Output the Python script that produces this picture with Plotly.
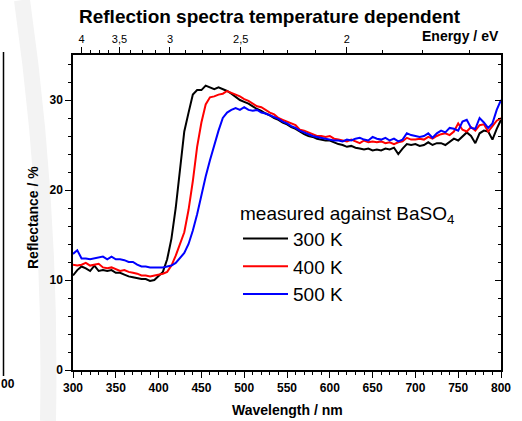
import plotly.graph_objects as go

# ---------------- data ----------------
wavelength_nm = [300, 305, 310, 315, 320, 325, 330, 335, 340, 345,
                 350, 355, 360, 365, 370, 375, 380, 385, 390, 395,
                 400, 405, 410, 415, 420, 425, 430, 435, 440, 445,
                 450, 455, 460, 465, 470, 475, 480, 485, 490, 495,
                 500, 505, 510, 515, 520, 525, 530, 535, 540, 545,
                 550, 555, 560, 565, 570, 575, 580, 585, 590, 595,
                 600, 605, 610, 615, 620, 625, 630, 635, 640, 645,
                 650, 655, 660, 665, 670, 675, 680, 685, 690, 695,
                 700, 705, 710, 715, 720, 725, 730, 735, 740, 745,
                 750, 755, 760, 765, 770, 775, 780, 785, 790, 795, 800]

reflect_300K = [10.5, 11.1, 11.5, 11.3, 11.0, 11.6, 11.0, 11.1, 11.0, 11.1,
                10.8, 10.8, 10.6, 10.4, 10.3, 10.2, 10.1, 10.1, 9.9, 10.0,
                10.4, 10.9, 12.3, 14.6, 18.0, 22.5, 26.5, 28.6, 30.6, 31.1,
                31.1, 31.6, 31.4, 31.2, 31.4, 31.2, 31.0, 30.7, 30.3, 30.0,
                29.8, 29.6, 29.3, 29.0, 28.8, 28.5, 28.3, 28.0, 27.8, 27.5,
                27.3, 27.0, 26.8, 26.5, 26.2, 26.0, 25.9, 25.7, 25.6, 25.5,
                25.5, 25.3, 25.1, 25.0, 24.8, 24.9, 24.7, 24.6, 24.5, 24.6,
                24.4, 24.5, 24.4, 24.6, 24.5, 24.7, 24.0, 24.6, 25.1, 25.0,
                25.1, 24.9, 25.0, 25.3, 25.0, 25.2, 25.2, 25.0, 25.4, 25.7,
                25.5, 25.9, 26.4, 26.0, 25.2, 26.3, 26.6, 26.5, 25.6, 26.8, 27.8]

reflect_400K = [11.7, 11.6, 11.7, 11.9, 11.6, 11.7, 11.8, 11.4, 11.3, 11.4,
                11.2, 11.0, 11.1, 10.9, 10.8, 10.7, 10.5, 10.5, 10.4, 10.5,
                10.6, 10.7, 10.9, 11.6, 12.7, 14.0, 15.3, 17.8, 21.0, 24.8,
                27.5, 29.5, 30.3, 30.4, 30.6, 30.7, 31.0, 30.8, 30.6, 30.4,
                30.1, 29.9, 29.6, 29.3, 29.2, 28.9, 28.6, 28.4, 28.0, 27.8,
                27.6, 27.4, 27.2, 26.7, 26.6, 26.4, 26.2, 26.0, 26.0, 25.9,
                26.0, 25.7, 25.6, 25.5, 25.4, 25.6, 25.4, 25.2, 25.5, 25.3,
                25.4, 25.3, 25.4, 25.2, 25.3, 25.1, 25.3, 25.4, 25.8, 25.6,
                25.6, 25.7, 25.6, 25.9, 25.7, 26.0, 26.2, 26.3, 26.1, 26.5,
                27.4, 26.7, 26.5, 27.0, 26.6, 27.2, 27.3, 26.5, 27.1, 27.7, 28.0]

reflect_500K = [12.9, 13.3, 12.4, 12.4, 12.3, 12.4, 12.5, 12.6, 12.3, 12.6,
                12.3, 12.3, 12.2, 12.0, 12.0, 11.7, 11.5, 11.5, 11.4, 11.4,
                11.4, 11.4, 11.5, 11.6, 11.9, 12.4, 13.0, 14.0, 15.5, 17.3,
                19.6, 21.5, 23.3, 25.0, 26.6, 28.0, 28.6, 28.9, 29.1, 28.9,
                29.2, 28.9, 28.8, 28.9, 28.6, 28.5, 28.3, 28.1, 27.9, 27.6,
                27.4, 27.1, 26.9, 26.6, 26.4, 26.2, 26.0, 25.9, 25.8, 25.7,
                25.6, 25.5, 25.5, 25.4, 25.6, 25.5, 25.7, 25.8, 25.6, 25.5,
                25.9, 25.7, 25.6, 25.8, 25.5, 25.7, 25.4, 25.6, 26.3, 26.1,
                26.0, 25.9, 26.0, 26.3, 25.8, 26.3, 26.6, 26.4, 26.9, 26.8,
                26.6, 27.6, 27.8, 26.9, 26.8, 28.0, 27.5, 26.9, 27.4, 28.9, 30.0]

series_names = ["300 K", "400 K", "500 K"]
series_colors = ["#000000", "#ff0000", "#0000ff"]

energy_major = [4, 3.5, 3, 2.5, 2]
energy_labels = ["4", "3,5", "3", "2,5", "2"]
energy_minor = [3.875, 3.75, 3.625, 3.375, 3.25, 3.125, 2.875, 2.75, 2.625,
                2.375, 2.25, 2.125, 1.875, 1.75, 1.625]
HC = 1239.84  # eV*nm

# ---------------- layout geometry ----------------
FIG_W, FIG_H = 522, 421
ML, MR, MT, MB = 73, 21, 55, 51
PW, PH = FIG_W - ML - MR, FIG_H - MT - MB


def px2x(px):
    return (px - ML) / PW


def py2y(py):
    return (FIG_H - MB - py) / PH


FONT = "Liberation Sans, Arial, sans-serif"

fig = go.Figure()
for name, col, vals in zip(series_names, series_colors,
                           [reflect_300K, reflect_400K, reflect_500K]):
    fig.add_trace(go.Scatter(x=wavelength_nm, y=vals, mode="lines", name=name,
                             line=dict(color=col, width=2)))

# invisible trace to activate the secondary (top / right) axes
fig.add_trace(go.Scatter(x=wavelength_nm, y=reflect_300K, xaxis="x2", yaxis="y2",
                         mode="lines", line=dict(width=0, color="rgba(0,0,0,0)"),
                         showlegend=False, hoverinfo="skip"))

axis_common = dict(showgrid=False, zeroline=False, showline=True, linecolor="black",
                   linewidth=1.5, tickcolor="black", tickwidth=1.3)

fig.update_layout(
    width=FIG_W, height=FIG_H,
    margin=dict(l=ML, r=MR, t=MT, b=MB),
    paper_bgcolor="white", plot_bgcolor="white",
    font=dict(family=FONT, color="black"),
    showlegend=True,
    xaxis=dict(range=[300, 800], tickmode="linear", tick0=300, dtick=50,
               ticks="outside", ticklen=6,
               tickfont=dict(size=12, weight="bold"),
               minor=dict(dtick=10, ticks="outside", ticklen=3, tickwidth=1.2,
                          tickcolor="black"),
               **axis_common),
    xaxis2=dict(range=[300, 800], overlaying="x", side="top", anchor="y",
                tickmode="array", tickvals=[HC / e for e in energy_major],
                ticktext=energy_labels, ticks="outside", ticklen=6,
                tickfont=dict(size=11),
                minor=dict(tickmode="array", tickvals=[HC / e for e in energy_minor],
                           ticks="outside", ticklen=3, tickwidth=1.2,
                           tickcolor="black"),
                **axis_common),
    yaxis=dict(range=[0, 35], tickmode="linear", tick0=0, dtick=10,
               ticks="outside", ticklen=6,
               tickfont=dict(size=12, weight="bold"),
               minor=dict(dtick=2, ticks="outside", ticklen=3, tickwidth=1.2,
                          tickcolor="black"),
               **axis_common),
    yaxis2=dict(range=[0, 35], overlaying="y", side="right", anchor="x",
                tickmode="linear", tick0=0, dtick=10, ticks="inside", ticklen=6,
                showticklabels=False,
                minor=dict(dtick=2, ticks="inside", ticklen=3, tickwidth=1.2,
                           tickcolor="black"),
                **axis_common),
    legend=dict(
        title=dict(text="measured against BaSO<sub>4</sub>", side="top",
                   font=dict(size=19, family=FONT)),
        font=dict(size=19, family=FONT),
        x=px2x(238), y=py2y(195), xanchor="left", yanchor="top",
        itemwidth=45,
        bgcolor="rgba(0,0,0,0)", borderwidth=0, tracegroupgap=0,
    ),
)

# watermark arc (faint) and the cut-off neighbouring chart on the left
fig.add_shape(type="path", xref="paper", yref="paper", layer="below",
              path=f"M {px2x(22)} {py2y(0)} Q {px2x(52)} {py2y(210)} {px2x(48)} {py2y(421)}",
              line=dict(color="#f3f3f3", width=16))
fig.add_shape(type="line", xref="paper", yref="paper",
              x0=px2x(3.5), x1=px2x(3.5), y0=py2y(52), y1=py2y(376),
              line=dict(color="black", width=1.5))

annos = [
    dict(text="<b>Reflection spectra temperature dependent</b>", x=px2x(270), y=py2y(17),
         xanchor="center", yanchor="middle", font=dict(size=19)),
    dict(text="<b>Energy / eV</b>", x=px2x(501), y=py2y(36),
         xanchor="right", yanchor="middle", font=dict(size=14)),
    dict(text="<b>Wavelength / nm</b>", x=0.5, y=py2y(410),
         xanchor="center", yanchor="middle", font=dict(size=14)),
    dict(text="<b>Reflectance / %</b>", x=px2x(33), y=py2y(218), textangle=-90,
         xanchor="center", yanchor="middle", font=dict(size=14)),
    dict(text="<b>00</b>", x=px2x(-1), y=py2y(384),
         xanchor="left", yanchor="middle", font=dict(size=12)),
]
for a in annos:
    fig.add_annotation(xref="paper", yref="paper", showarrow=False,
                       font_family=FONT, font_color="black", **{k: v for k, v in a.items()})

fig.write_html("out.html")
